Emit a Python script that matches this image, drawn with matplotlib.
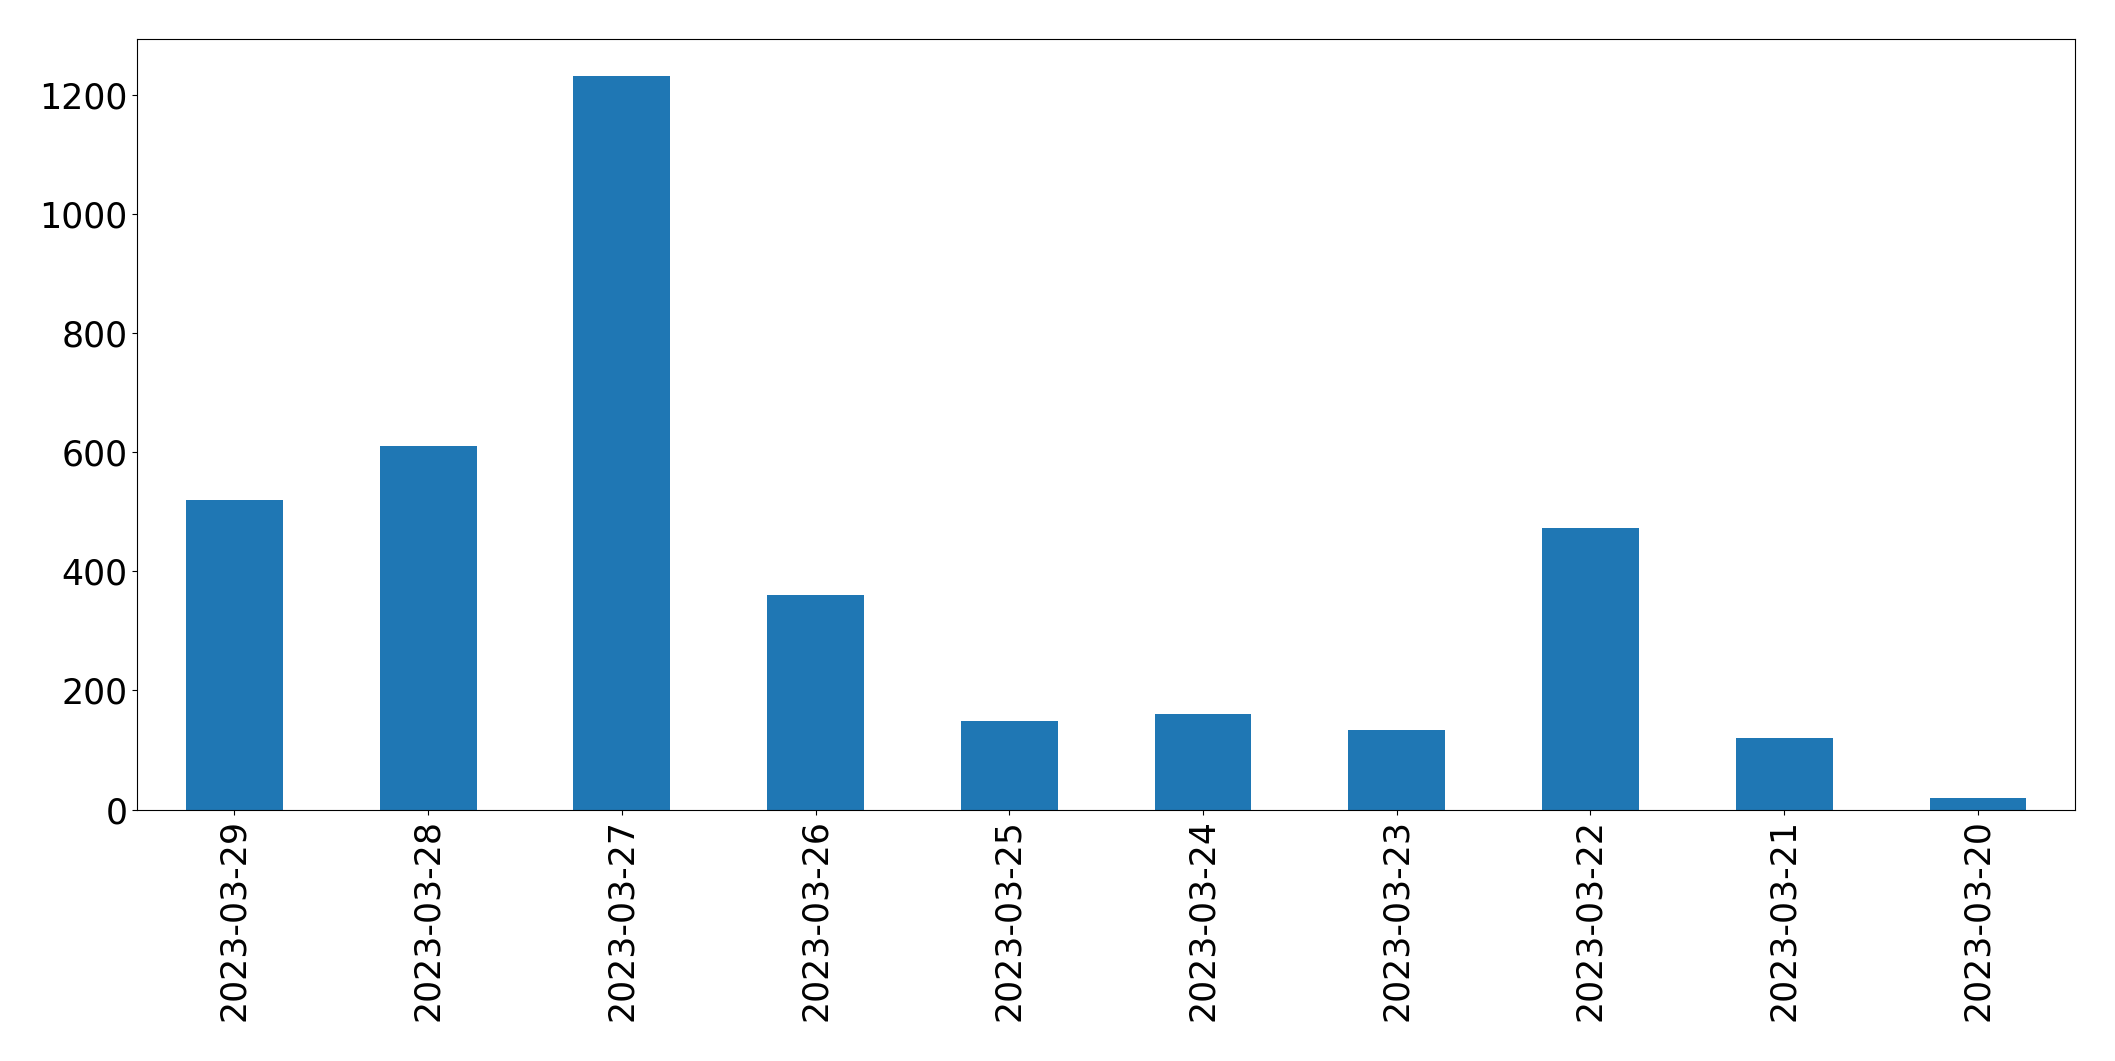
import matplotlib
matplotlib.use("Agg")
import matplotlib.pyplot as plt
import numpy as np

# daily counts, newest first (as in the original)
dates = ["2023-03-29", "2023-03-28", "2023-03-27", "2023-03-26", "2023-03-25",
         "2023-03-24", "2023-03-23", "2023-03-22", "2023-03-21", "2023-03-20"]
counts = [520, 611, 1232, 360, 148, 160, 133, 473, 120, 19]

fig = plt.figure(figsize=(21.15, 10.61), dpi=100)
ax = fig.add_axes([0.065, 0.237, 0.916, 0.726])

x = np.arange(len(dates))
ax.bar(x, counts, width=0.5, color="#1f77b4")
ax.set_xlim(-0.5, len(dates) - 0.5)
ax.set_ylim(0, max(counts) * 1.05)
ax.set_xticks(x)
ax.set_xticklabels(dates, rotation=90)
ax.tick_params(axis="both", labelsize=25)

fig.savefig("out.png", dpi=100)
